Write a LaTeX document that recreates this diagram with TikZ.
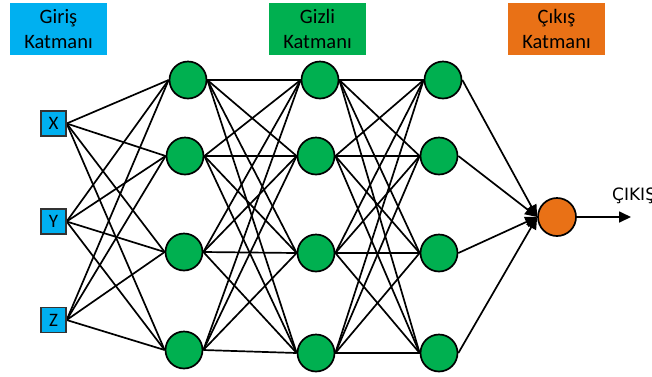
\documentclass[tikz,border=0pt]{standalone}
\usepackage{fontspec}
\setmainfont{Carlito}
\newfontfamily\dejavu{DejaVu Sans}
\usetikzlibrary{arrows.meta,backgrounds}
\definecolor{cyanbox}{HTML}{00B0F0}
\definecolor{greenbox}{HTML}{00B050}
\definecolor{orangebox}{HTML}{E97116}
\tikzset{
  header/.style={minimum width=97pt,minimum height=52pt,inner sep=0pt,align=center,font=\fontsize{20.5}{25}\selectfont},
  inbox/.style={rectangle,draw=black!80,fill=cyanbox,minimum size=25pt,inner sep=0pt,line width=1.3pt,font=\fontsize{19}{20}\selectfont},
  neuron/.style={circle,draw=black,fill=greenbox,minimum size=37pt,inner sep=0pt,line width=1.7pt},
  outneuron/.style={circle,draw=black,fill=orangebox,minimum size=38pt,inner sep=0pt,line width=1.7pt},
  conn/.style={line width=1.7pt,black},
  arr/.style={line width=1.7pt,black,-{Triangle[length=12pt,width=11pt]}}
}
\begin{document}
\begin{tikzpicture}[x=1pt,y=-1pt]
\useasboundingbox (0,0) rectangle (652,376);
% headers
\node[header,fill=cyanbox] (hin) at (58.5,29) {Giriş\\Katmanı};
\node[header,fill=greenbox] (hhid) at (317.5,29) {Gizli\\Katmanı};
\node[header,fill=orangebox] (hout) at (556.5,29) {Çıkış\\Katmanı};
% neurons
\foreach \n/\x/\y in {a1/188/80,a2/185/156,a3/184/252,a4/184/350,
                      b1/320/80,b2/316/156,b3/316/253,b4/316/353,
                      c1/443/80,c2/439/156,c3/439/253,c4/439/353}
  \node[neuron] (\n) at (\x,\y) {};
\node[inbox] (X) at (53.5,123.5) {X};
\node[inbox] (Y) at (53.5,221.5) {Y};
\node[inbox] (Z) at (53.5,320) {Z};
\node[outneuron] (o) at (557,217) {};
\coordinate (oend) at (631,217);
\node[anchor=base west,inner sep=0pt,font=\dejavu\fontsize{17}{20}\selectfont] (olab) at (612,200) {ÇIKIŞ};
\begin{scope}[on background layer]
\foreach \i in {X,Y,Z}
  \foreach \j in {a1,a2,a3,a4}
    \draw[conn] (\i.east) -- (\j.west);
\foreach \i in {a1,a2,a3,a4}
  \foreach \j in {b1,b2,b3,b4}
    \draw[conn] (\i.east) -- (\j.west);
\foreach \i in {b1,b2,b3,b4}
  \foreach \j in {c1,c2,c3,c4}
    \draw[conn] (\i.east) -- (\j.west);
\end{scope}
\foreach \i in {c1,c2,c3,c4}
  \draw[arr] (\i.east) -- (o.west);
\draw[arr] (o.east) -- (oend);
\end{tikzpicture}
\end{document}
